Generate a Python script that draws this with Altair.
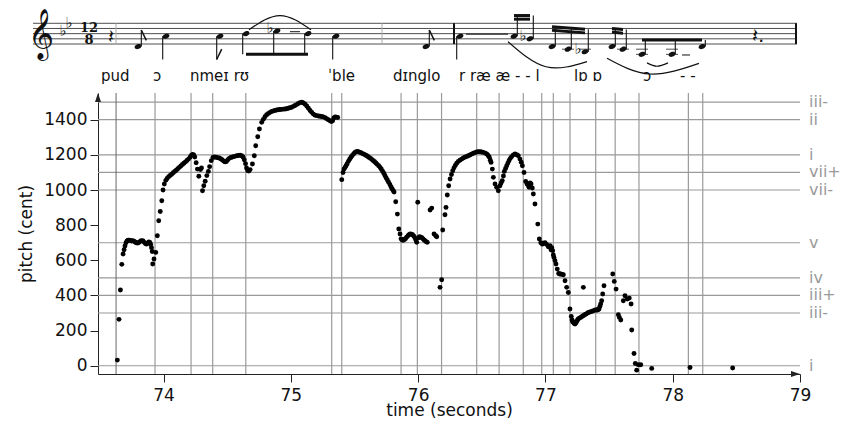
import altair as alt
import pandas as pd

# ---------------- pitch contour: (time in seconds, pitch in cent) ----------------
seg_a = [(73.637,32),(73.650,264),(73.661,431),(73.672,577),(73.682,636),(73.690,660),(73.697,682),
(73.705,700),(73.713,710),(73.722,714),(73.731,715),(73.740,712),(73.749,710),(73.758,712),
(73.767,708),(73.776,704),(73.785,700),(73.794,698),(73.803,700),(73.812,705),(73.821,710),
(73.830,712),(73.839,710),(73.848,702),(73.857,696),(73.866,692),(73.875,698),(73.884,704),
(73.892,702),(73.899,690),(73.905,672),(73.911,650),(73.915,579),(73.925,607),(73.939,645),
(73.951,740),(73.962,825),(73.974,878),(73.986,939),(73.996,1000),(74.006,1034),(74.018,1055),
(74.028,1066)]
seg_b = [(74.040,1076),(74.052,1083),(74.064,1090),(74.076,1098),(74.088,1106),(74.100,1113),(74.112,1121),
(74.124,1129),(74.136,1137),(74.148,1145),(74.160,1152),(74.172,1160),(74.184,1168),(74.196,1176),
(74.208,1186),(74.218,1196),(74.228,1203),(74.237,1200),(74.245,1188),(74.256,1155),(74.266,1119),
(74.277,1078),(74.290,1116),(74.298,1125),(74.306,996),(74.316,1024),(74.327,1050),(74.340,1082),
(74.352,1106),(74.362,1133),(74.375,1167),(74.388,1185)]
seg_c = [(74.400,1188),(74.412,1186),(74.424,1184),(74.436,1182),(74.448,1178),(74.460,1172),(74.472,1165),
(74.483,1160),(74.494,1162),(74.505,1172),(74.517,1180),(74.529,1185),(74.541,1188),(74.553,1190),
(74.565,1193),(74.577,1195),(74.589,1197),(74.601,1198),(74.613,1195),(74.624,1188),(74.634,1172),
(74.644,1150),(74.652,1125),(74.661,1110),(74.670,1108),(74.680,1116),(74.698,1148),(74.713,1195),
(74.724,1252),(74.740,1303),(74.753,1347),(74.771,1385),(74.784,1402),(74.797,1417),(74.810,1428),
(74.824,1436),(74.837,1442),(74.850,1447),(74.863,1450),(74.876,1453),(74.889,1455),(74.902,1457),
(74.915,1458),(74.928,1459),(74.941,1460),(74.954,1461),(74.967,1462),(74.980,1465),(74.993,1468),
(75.007,1471),(75.020,1476),(75.033,1481),(75.046,1486),(75.059,1492),(75.072,1497),(75.086,1499),
(75.099,1495),(75.112,1488),(75.125,1478),(75.138,1465),(75.151,1452),(75.164,1442),(75.177,1432),
(75.190,1426),(75.203,1423),(75.216,1421),(75.229,1420),(75.242,1418),(75.255,1416),(75.268,1412),
(75.281,1406),(75.294,1400),(75.308,1394),(75.318,1390),(75.328,1394),(75.338,1410),(75.348,1416),
(75.358,1415),(75.368,1413)]
seg_d = [(75.400,1059),(75.410,1100),(75.418,1119),(75.426,1128),(75.434,1138),(75.442,1148),(75.452,1163),
(75.462,1175),(75.472,1186),(75.483,1197),(75.494,1207),(75.504,1214),(75.514,1218),(75.524,1219),
(75.534,1217),(75.544,1214),(75.554,1211),(75.564,1207),(75.575,1203),(75.586,1199),(75.596,1195),
(75.607,1189),(75.617,1184),(75.627,1179),(75.638,1173),(75.648,1167),(75.658,1161),(75.668,1154),
(75.678,1146),(75.690,1138),(75.701,1129),(75.711,1118),(75.722,1106),(75.731,1094),(75.740,1081),
(75.749,1069),(75.758,1057),(75.768,1044),(75.779,1030),(75.789,1016),(75.797,1005),(75.805,996),
(75.811,988),(75.824,933),(75.837,863),(75.848,778),(75.858,750),(75.866,722),(75.874,715),
(75.884,714),(75.893,718),(75.902,724),(75.911,732),(75.920,740),(75.929,746),(75.938,750),
(75.947,749),(75.956,745),(75.965,738),(75.974,728),(75.982,715),(75.989,702),(75.997,930),
(76.003,728),(76.011,734),(76.020,732),(76.029,728),(76.038,722),(76.047,716),(76.056,710),
(76.065,705),(76.072,702)]
seg_e = [(76.094,886),(76.107,897),(76.125,750),(76.138,740),(76.146,734),(76.172,446),(76.185,489),
(76.193,772),(76.211,859),(76.219,901),(76.229,972),(76.240,1024),(76.251,1063),(76.262,1088),
(76.272,1110),(76.282,1126),(76.292,1140),(76.303,1152),(76.316,1163),(76.329,1170),(76.342,1176),
(76.355,1182),(76.368,1187),(76.381,1191),(76.394,1195),(76.407,1199),(76.420,1204),(76.434,1209),
(76.447,1213),(76.460,1216),(76.473,1218),(76.486,1218),(76.499,1216),(76.512,1214),(76.526,1210),
(76.539,1205),(76.550,1196),(76.559,1186),(76.567,1170),(76.573,1157),(76.583,1119),(76.591,1072),
(76.604,1034),(76.617,1015),(76.630,996),(76.643,1024),(76.652,1040),(76.661,1053),(76.670,1080),
(76.677,1106),(76.687,1122),(76.696,1138),(76.705,1153),(76.714,1167),(76.724,1180),(76.735,1190),
(76.748,1200),(76.761,1205),(76.774,1201),(76.787,1195),(76.800,1176),(76.810,1158),(76.819,1138),
(76.832,1100),(76.845,1049),(76.855,1036),(76.861,1030),(76.871,1015),(76.880,1040),(76.887,1034),
(76.897,1011),(76.905,977),(76.918,920),(76.940,806),(76.952,721),(76.964,700),(76.976,692),
(76.988,697),(76.997,700),(77.010,690),(77.023,677),(77.036,683),(77.044,660),(77.050,672)]
seg_f = [(77.057,655),(77.062,630),(77.067,616),(77.075,598),(77.083,579),(77.093,550),(77.104,525),
(77.112,522),(77.120,522),(77.130,520),(77.141,518),(77.154,484),(77.167,446),(77.180,417),
(77.193,323),(77.203,280),(77.209,260),(77.214,250),(77.219,247),(77.226,240),(77.233,237),
(77.240,245),(77.246,252),(77.252,260),(77.258,266),(77.268,271),(77.277,275),(77.288,280),
(77.298,285),(77.308,290),(77.319,294),(77.328,298),(77.337,303),(77.350,306),(77.364,309),
(77.377,313),(77.390,317),(77.400,317),(77.408,317),(77.415,320),(77.421,323),(77.428,337),
(77.434,351),(77.442,370),(77.450,408),(77.460,455),(77.298,446),(77.529,522),(77.541,480),
(77.555,436),(77.573,290),(77.581,275),(77.592,260),(77.612,370),(77.625,398),(77.643,380),
(77.659,385),(77.673,351),(77.678,203),(77.696,70),(77.706,13),(77.717,-25),(77.730,6),
(77.749,6),(77.835,-15),(78.136,-10),(78.471,-13)]

# note onsets (vertical lines), in seconds; the first one is drawn darker
onsets = [73.627, 73.933, 74.216, 74.386, 74.646, 75.321, 75.400, 75.866, 75.994, 76.184,
          76.460, 76.636, 76.826, 76.971, 77.062, 77.193, 77.395, 77.548, 77.735, 78.123, 78.236]

# scale degrees (horizontal lines)
degree_cents = [0, 300, 400, 500, 700, 1000, 1100, 1200, 1400, 1500]
degree_labels = ["i", "iii-", "iii+", "iv", "v", "vii-", "vii+", "i", "ii", "iii-"]

x_ticks = [74, 75, 76, 77, 78, 79]
y_ticks = [0, 200, 400, 600, 800, 1000, 1200, 1400]

# ---------------- score (x = position along the score line, step 0 = bottom staff line) ----------------
note_x    = [138, 166, 220, 246, 277, 308, 336, 426, 460, 514, 530, 552, 568, 585, 612, 623, 642, 672, 702]
note_step = [-1,  3,   3,   4,   5,   4,   3,  -1,   3,   3,   2,  -1,  -2,  -3,  -1,  -2,  -4,  -4,  -1]
note_up   = [1,   0,   0,   0,   0,   0,   0,   1,   0,   1,   1,   1,   1,   1,   1,   1,   1,   1,   1]
stem_end  = [5.4, -6, -6,  -4,  -4,  -4,  -6, 5.4,  -6,  11,  11, 6.7, 6.2, 5.7,   6, 5.6, 1.5, 1.5, 1.5]
flag      = [1,   0,   1,   0,   0,   0,   0,   1,   0,   0,   0,   0,   0,   0,   0,   0,   0,   0,   0]
beam_x0 = [246, 514, 514, 552, 552, 612, 612, 642]
beam_x1 = [308, 530, 530, 585, 585, 623, 623, 702]
beam_s0 = [-4, 11, 9.6, 6.7, 5.3, 6, 4.6, 1.5]
beam_s1 = [-4, 11, 9.6, 5.7, 4.3, 5.6, 4.2, 1.5]
flat_x = [63, 69, 270, 523, 578]
flat_step = [4, 7, 5, 2, -3]
slur_id = [1, 1, 1, 2, 2, 2, 3, 3, 3, 4, 4, 4]
slur_x = [249, 280, 311, 508, 546, 587, 607, 650, 699, 647, 657, 668]
slur_step = [5.5, 11, 5.5, 0.9, -8.8, -6.8, -5.5, -11.6, -7.5, -7.3, -8.6, -7.3]
bar_x = [454, 796]
beat_x = [116, 382]
rest_x = [108, 752]
rest_txt = ["\U0001D13D", "\U0001D13D."]
lyric_x = [101, 153, 190, 328, 393, 459, 574, 643, 680]
lyric_txt = ["pud", "ɔ", "nmeɪ rʊ", "ˈble", "dɪnglo", "r ræ æ - - l", "lɒ ɒ", "ɔ", "- -"]
dash_x0 = [290, 466, 682]
dash_x1 = [300, 508, 690]
dash_step = [4.75, 3.8, -4.25]

FONT = "DejaVu Sans"
XS = alt.Scale(domain=[73.485, 79.0], nice=False, zero=False)
YS = alt.Scale(domain=[-47, 1552], nice=False, zero=False)
NX = alt.Scale(domain=[0, 848], range=[-98, 750], nice=False, zero=False)
NY = alt.Scale(domain=[0, 8], range=[-49, -69.7], nice=False, zero=False)

XA = alt.Axis(values=x_ticks, format="d", tickSize=8, labelPadding=5, titlePadding=-1,
              domainColor="#222", tickColor="#222", labelColor="#111", titleColor="#111",
              labelFontSize=17, titleFontSize=17, titleFontWeight="normal",
              labelFont=FONT, titleFont=FONT, grid=False, labelFlush=False, orient="bottom")
YA = alt.Axis(values=y_ticks, format="d", tickSize=8, labelPadding=3, titlePadding=8,
              domainColor="#222", tickColor="#222", labelColor="#111", titleColor="#111",
              labelFontSize=17, titleFontSize=17, titleFontWeight="normal",
              labelFont=FONT, titleFont=FONT, grid=False, labelFlush=False, orient="left")

pts = seg_a + seg_b + seg_c + seg_d + seg_e + seg_f
contour = pd.DataFrame({"t": [p[0] for p in pts], "c": [p[1] for p in pts]})
hdf = pd.DataFrame({"c": degree_cents, "lbl": degree_labels})
vdf = pd.DataFrame({"t": onsets[1:]})
vdf0 = pd.DataFrame({"t": onsets[:1]})

hgrid = alt.Chart(hdf).mark_rule(color="#9a9a9a", strokeWidth=1.2).encode(
    y=alt.Y("c:Q", scale=YS, axis=None))
vgrid = alt.Chart(vdf).mark_rule(color="#9a9a9a", strokeWidth=1.2).encode(
    x=alt.X("t:Q", scale=XS, axis=None))
vgrid0 = alt.Chart(vdf0).mark_rule(color="#666", strokeWidth=1).encode(
    x=alt.X("t:Q", scale=XS, axis=None))
dlabels = alt.Chart(hdf.assign(t=79.0)).mark_text(align="left", baseline="middle", dx=9, fontSize=16,
                                   color="#9a9a9a", font=FONT).encode(
    x=alt.X("t:Q", scale=XS, axis=None), y=alt.Y("c:Q", scale=YS, axis=None), text="lbl:N")

points = alt.Chart(contour).mark_circle(size=24, color="black", opacity=1).encode(
    x=alt.X("t:Q", scale=XS, title="time (seconds)", axis=XA),
    y=alt.Y("c:Q", scale=YS, title="pitch (cent)", axis=YA))

xarrow = alt.Chart(pd.DataFrame({"t": [79.0], "c": [-47]})).mark_point(
    shape="M -1.8 -0.6 L 0 0 L -1.8 0.6 Z", filled=True, size=100, color="#222", opacity=1).encode(
    x=alt.X("t:Q", scale=XS, axis=None), y=alt.Y("c:Q", scale=YS, axis=None))
yarrow = alt.Chart(pd.DataFrame({"t": [73.485], "c": [1552]})).mark_point(
    shape="M -0.6 1.8 L 0 0 L 0.6 1.8 Z", filled=True, size=100, color="#222", opacity=1).encode(
    x=alt.X("t:Q", scale=XS, axis=None), y=alt.Y("c:Q", scale=YS, axis=None))

# ---------------- score layers ----------------
def nx(f):
    return alt.X(f, scale=NX, axis=None)
def ny(f):
    return alt.Y(f, scale=NY, axis=None)

staff = alt.Chart(pd.DataFrame({"s": [0, 2, 4, 6, 8], "x0": [33]*5, "x1": [797]*5})).mark_rule(
    color="#222", strokeWidth=0.8).encode(x=nx("x0:Q"), x2="x1:Q", y=ny("s:Q"))
beats = alt.Chart(pd.DataFrame({"x": beat_x, "s0": [0]*2, "s1": [8]*2})).mark_rule(
    color="#aaa", strokeWidth=1).encode(x=nx("x:Q"), y=ny("s0:Q"), y2="s1:Q")
bars = alt.Chart(pd.DataFrame({"x": bar_x, "s0": [0]*2, "s1": [8]*2})).mark_rule(
    color="#111", strokeWidth=2).encode(x=nx("x:Q"), y=ny("s0:Q"), y2="s1:Q")

ndf = pd.DataFrame({"x": note_x, "s": note_step, "up": note_up, "e": stem_end, "flag": flag})
ndf["sx"] = ndf["x"] + ndf["up"].map({1: 3.3, 0: -3.3})
ndf["fe"] = ndf["e"] + ndf["up"].map({1: -4.0, 0: 4.0})
ndf["fx"] = ndf["sx"] + 5
heads = alt.Chart(ndf).mark_point(
    shape="M -1 0 A 1 0.68 0 1 0 1 0 A 1 0.68 0 1 0 -1 0 Z", filled=True, size=50,
    angle=340, color="#111", opacity=1).encode(x=nx("x:Q"), y=ny("s:Q"))
stems = alt.Chart(ndf).mark_rule(color="#111", strokeWidth=1.1).encode(
    x=nx("sx:Q"), y=ny("s:Q"), y2="e:Q")
flags = alt.Chart(ndf[ndf["flag"] == 1]).mark_rule(color="#111", strokeWidth=1.5).encode(
    x=nx("sx:Q"), x2="fx:Q", y=ny("e:Q"), y2="fe:Q")
led_x0, led_x1, led_s = [], [], []
for x, s in zip(note_x, note_step):
    for lv in (-2, -4):
        if s <= lv:
            led_x0.append(x - 6); led_x1.append(x + 6); led_s.append(lv)
ledgers = alt.Chart(pd.DataFrame({"x0": led_x0, "x1": led_x1, "s": led_s})).mark_rule(
    color="#222", strokeWidth=0.8).encode(x=nx("x0:Q"), x2="x1:Q", y=ny("s:Q"))
beams = alt.Chart(pd.DataFrame({"x0": beam_x0, "x1": beam_x1, "s0": beam_s0, "s1": beam_s1})).mark_rule(
    color="#111", strokeWidth=3).encode(x=nx("x0:Q"), x2="x1:Q", y=ny("s0:Q"), y2="s1:Q")
flats = alt.Chart(pd.DataFrame({"x": flat_x, "s": flat_step})).mark_text(
    text="♭", fontSize=15, baseline="middle", dy=-3, font=FONT, color="#111").encode(
    x=nx("x:Q"), y=ny("s:Q"))
slurs = alt.Chart(pd.DataFrame({"id": slur_id, "x": slur_x, "s": slur_step,
                                "o": list(range(len(slur_x)))})).mark_line(
    color="#111", strokeWidth=1.2, interpolate="natural").encode(
    x=nx("x:Q"), y=ny("s:Q"), detail="id:N", order="o:Q")
dashes = alt.Chart(pd.DataFrame({"x0": dash_x0, "x1": dash_x1, "s": dash_step})).mark_rule(
    color="#111", strokeWidth=1).encode(x=nx("x0:Q"), x2="x1:Q", y=ny("s:Q"))
rests = alt.Chart(pd.DataFrame({"x": rest_x, "s": [2.7, 3], "t": rest_txt})).mark_text(
    fontSize=20, baseline="middle", align="left", font=FONT, color="#111").encode(
    x=nx("x:Q"), y=ny("s:Q"), text="t:N")
clef = alt.Chart(pd.DataFrame({"x": [41], "s": [3.5], "t": ["\U0001D11E"]})).mark_text(
    fontSize=44, baseline="middle", font=FONT, color="#111").encode(
    x=nx("x:Q"), y=ny("s:Q"), text="t:N")
timesig = alt.Chart(pd.DataFrame({"x": [89, 89], "s": [6.3, 1.7], "t": ["12", "8"]})).mark_text(
    fontSize=13, fontWeight="bold", baseline="middle", font="DejaVu Serif", color="#111").encode(
    x=nx("x:Q"), y=ny("s:Q"), text="t:N")
lyrics = alt.Chart(pd.DataFrame({"x": lyric_x, "s": [-14.3]*len(lyric_x), "t": lyric_txt})).mark_text(
    fontSize=15, baseline="alphabetic", align="left", font=FONT, color="#111").encode(
    x=nx("x:Q"), y=ny("s:Q"), text="t:N")

chart = alt.layer(
    hgrid, vgrid, vgrid0, dlabels, points, xarrow, yarrow,
    staff, beats, bars, ledgers, stems, flags, beams, heads, flats, slurs, dashes,
    rests, clef, timesig, lyrics,
).resolve_scale(x="independent", y="independent").properties(
    width=702, height=281,
    padding={"left": 90, "top": 85, "right": 40, "bottom": 45},
    autosize=alt.AutoSizeParams(type="none"),
    background="white",
).configure_view(stroke=None)

chart.save("out.html", embed_options={"renderer": "svg", "actions": False})
